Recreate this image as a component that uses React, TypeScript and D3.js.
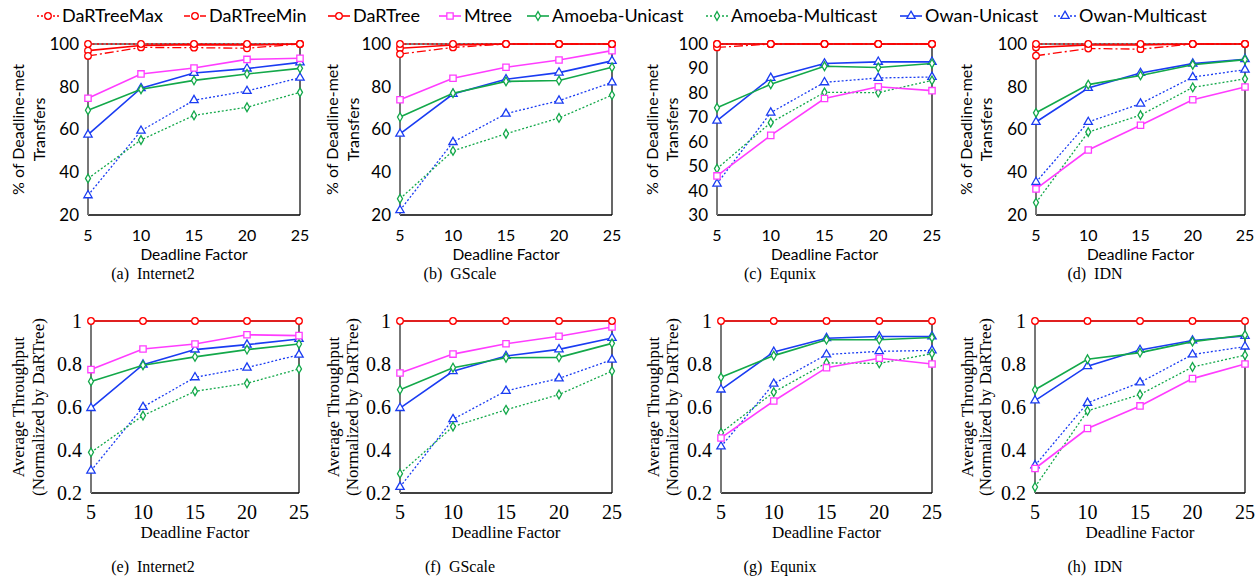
import React from "react";
import * as d3 from "d3";

const deadlineFactors = [5, 10, 15, 20, 25];
const seriesNames = [
  "DaRTreeMax",
  "DaRTreeMin",
  "DaRTree",
  "Mtree",
  "Amoeba-Unicast",
  "Amoeba-Multicast",
  "Owan-Unicast",
  "Owan-Multicast",
];

// % of deadline-met transfers, one row per series (order of seriesNames)
const metInternet2 = [
  [100, 100, 100, 100, 100],
  [94.4, 98.4, 98.3, 98, 100],
  [96.9, 99.3, 99.7, 99.5, 100],
  [74.6, 86, 88.8, 92.8, 93.3],
  [69, 78.8, 83, 86, 88.6],
  [37.1, 55.1, 66.6, 70.4, 77.4],
  [57.6, 79.3, 86.4, 88.5, 91.4],
  [29.2, 59.4, 73.7, 78, 84.2],
];
const metGScale = [
  [100, 100, 100, 100, 100],
  [95.3, 98.4, 100, 100, 100],
  [98, 99.5, 100, 100, 100],
  [73.9, 84, 89.1, 92.5, 96.9],
  [65.8, 77, 82.5, 82.9, 89.1],
  [27.6, 50, 58, 65.4, 76.1],
  [58, 76.6, 83.5, 86.6, 92.1],
  [22.2, 54.1, 67.4, 73.5, 82],
];
const metEqunix = [
  [100, 100, 100, 100, 100],
  [98.6, 100, 100, 100, 100],
  [100, 100, 100, 100, 100],
  [46, 62.6, 77.7, 82.5, 80.9],
  [73.9, 83.5, 90.9, 90.4, 92],
  [49, 67.8, 80.2, 80.1, 85.1],
  [68.6, 86.1, 92, 92.7, 92.7],
  [42.8, 71.9, 84.3, 86.1, 86.5],
];
const metIDN = [
  [100, 100, 100, 100, 100],
  [94.5, 97.9, 97.6, 100, 100],
  [98.4, 99.5, 99.5, 100, 100],
  [32.2, 50.4, 62, 73.9, 79.9],
  [67.8, 81, 85.3, 90.3, 92.7],
  [25.8, 58.8, 66.7, 79.7, 83.7],
  [63.5, 79.4, 86.4, 90.8, 92.9],
  [35.4, 63.5, 72.1, 84.5, 88],
];

// average throughput normalized by DaRTree (no Max/Min curves here)
const thrInternet2 = [
  null,
  null,
  [1, 1, 1, 1, 1],
  [0.774, 0.87, 0.893, 0.936, 0.932],
  [0.719, 0.794, 0.833, 0.867, 0.893],
  [0.389, 0.56, 0.673, 0.71, 0.777],
  [0.595, 0.797, 0.867, 0.89, 0.916],
  [0.304, 0.6, 0.738, 0.783, 0.843],
];
const thrGScale = [
  null,
  null,
  [1, 1, 1, 1, 1],
  [0.758, 0.846, 0.894, 0.929, 0.972],
  [0.68, 0.783, 0.829, 0.831, 0.896],
  [0.29, 0.509, 0.587, 0.658, 0.767],
  [0.595, 0.766, 0.837, 0.868, 0.921],
  [0.228, 0.543, 0.675, 0.733, 0.82],
];
const thrEqunix = [
  null,
  null,
  [1, 1, 1, 1, 1],
  [0.456, 0.628, 0.783, 0.827, 0.8],
  [0.738, 0.839, 0.913, 0.913, 0.923],
  [0.48, 0.669, 0.805, 0.803, 0.848],
  [0.681, 0.856, 0.92, 0.928, 0.928],
  [0.416, 0.708, 0.844, 0.859, 0.863],
];
const thrIDN = [
  null,
  null,
  [1, 1, 1, 1, 1],
  [0.314, 0.5, 0.605, 0.732, 0.8],
  [0.68, 0.822, 0.853, 0.904, 0.935],
  [0.228, 0.582, 0.658, 0.786, 0.841],
  [0.63, 0.79, 0.865, 0.909, 0.93],
  [0.328, 0.619, 0.714, 0.844, 0.881],
];

const metTicks = [20, 40, 60, 80, 100];
const metTicksEqunix = [30, 40, 50, 60, 70, 80, 90, 100];
const thrTicks = [0.2, 0.4, 0.6, 0.8, 1];
const captionsTop = ["(a)\u00a0 Internet2", "(b)\u00a0 GScale", "(c)\u00a0 Equnix", "(d)\u00a0 IDN"];
const captionsBottom = ["(e)\u00a0 Internet2", "(f)\u00a0 GScale", "(g)\u00a0 Equnix", "(h)\u00a0 IDN"];

const RED = "#ff0000";
const PINK = "#ff3cff";
const GREEN = "#13a84a";
const BLUE = "#1a3cf2";

const styles = [
  { color: RED, dash: "2,2.5", symbol: d3.symbolCircle, size: 34 },
  { color: RED, dash: "9,3,2,3", symbol: d3.symbolCircle, size: 34 },
  { color: RED, dash: null, symbol: d3.symbolCircle, size: 34 },
  { color: PINK, dash: null, symbol: d3.symbolSquare, size: 40 },
  { color: GREEN, dash: null, symbol: d3.symbolDiamond, size: 22 },
  { color: GREEN, dash: "2,2", symbol: d3.symbolDiamond, size: 22 },
  { color: BLUE, dash: null, symbol: d3.symbolTriangle, size: 30 },
  { color: BLUE, dash: "2,2", symbol: d3.symbolTriangle, size: 30 },
];
const legendDash = ["2,2", "6,2", null, null, null, "2,2", null, "2,2"];

const SANS = "Lato, 'Open Sans', sans-serif";
const SERIF = "'Liberation Serif', 'DejaVu Serif', serif";

const legendX = [37, 184, 328, 439, 527, 706, 900, 1054];

function Panel({ left, right, top, bottom, domain, ticks, rows, serif, labelX, label, fmt, caption, captionX, captionY }) {
  const x = d3.scaleLinear().domain([5, 25]).range([left, right]);
  const y = d3.scaleLinear().domain(domain).range([bottom, top]);
  const line = d3
    .line<number>()
    .x((d, i) => x(deadlineFactors[i]))
    .y((d) => y(d));
  const tickFont = serif ? SERIF : SANS;
  const tickSize = serif ? 20 : 17;
  const xTickSize = serif ? 20 : 16;
  const titleSize = serif ? 17 : 15.5;
  const midY = (top + bottom) / 2;

  return (
    <g>
      {ticks.map((t) => (
        <text key={t} x={left - 9} y={y(t)} dy="0.35em" textAnchor="end" fontFamily={tickFont} fontSize={tickSize} fill="#000">
          {fmt(t)}
        </text>
      ))}
      {deadlineFactors.map((f) => (
        <text key={f} x={x(f)} y={bottom + 26} textAnchor="middle" fontFamily={tickFont} fontSize={xTickSize} fill="#000">
          {f}
        </text>
      ))}
      <text x={(left + right) / 2} y={bottom + 44.5} textAnchor="middle" fontFamily={tickFont} fontSize={titleSize} fill="#000">
        Deadline Factor
      </text>
      {label.map((l, i) => (
        <text
          key={l}
          transform={`translate(${labelX[i]},${midY}) rotate(-90)`}
          dy="0.35em"
          textAnchor="middle"
          fontFamily={tickFont}
          fontSize={serif ? 17 : 16}
          fill="#000"
        >
          {l}
        </text>
      ))}
      <text x={captionX} y={captionY} textAnchor="middle" fontFamily={SERIF} fontSize={16} fill="#000">
        {caption}
      </text>

      {/* frame */}
      <line x1={left} x2={right} y1={top} y2={top} stroke="#000" strokeWidth={1} />
      <line x1={right} x2={right} y1={top} y2={bottom} stroke="#000" strokeWidth={1.2} />
      <line x1={left} x2={right} y1={bottom} y2={bottom} stroke="#000" strokeWidth={1.5} />
      <line x1={left} x2={left} y1={top} y2={bottom} stroke="#777" strokeWidth={2} />

      {rows.map((row, si) => {
        if (!row) return null;
        const s = styles[si];
        return (
          <g key={si}>
            <path d={line(row)} fill="none" stroke={s.color} strokeWidth={s.dash ? 1.3 : 1.6} strokeDasharray={s.dash || undefined} />
            {row.map((v, i) => (
              <path
                key={i}
                transform={`translate(${x(deadlineFactors[i])},${y(v)})`}
                d={d3.symbol().type(s.symbol).size(s.size)()}
                fill="#fff"
                stroke={s.color}
                strokeWidth={1.3}
              />
            ))}
          </g>
        );
      }).reverse()}
    </g>
  );
}

export default function App() {
  const topLeft = [88, 400, 717, 1036];
  const topRight = [300, 612, 932, 1245];
  const botLeft = [91, 400, 721, 1035];
  const botRight = [299, 612, 932, 1245];
  const captionCenters = [153, 460, 780, 1095];
  const metRows = [metInternet2, metGScale, metEqunix, metIDN];
  const thrRows = [thrInternet2, thrGScale, thrEqunix, thrIDN];
  const topLabelX = [[18, 39], [332, 353], [652, 672], [966, 986]];
  const botLabelX = [[18, 38], [333, 352], [653, 672], [967, 985]];

  return (
    <svg width={1260} height={579} style={{ position: "absolute", left: 0, top: 0, background: "#fff" }}>
      {seriesNames.map((name, i) => {
        const s = styles[i];
        const x0 = legendX[i];
        return (
          <g key={name}>
            <line x1={x0} x2={x0 + 22} y1={16} y2={16} stroke={s.color} strokeWidth={legendDash[i] ? 1.3 : 1.6} strokeDasharray={legendDash[i] || undefined} />
            <path transform={`translate(${x0 + 11},16)`} d={d3.symbol().type(s.symbol).size(s.size)()} fill="#fff" stroke={s.color} strokeWidth={1.3} />
            <text x={x0 + 25} y={16} dy="0.35em" fontFamily={SANS} fontSize={18} fill="#000">
              {name}
            </text>
          </g>
        );
      })}

      {metRows.map((rows, i) => (
        <Panel
          key={"m" + i}
          left={topLeft[i]}
          right={topRight[i]}
          top={44}
          bottom={215}
          domain={i === 2 ? [30, 100] : [20, 100]}
          ticks={i === 2 ? metTicksEqunix : metTicks}
          rows={rows}
          serif={false}
          labelX={topLabelX[i]}
          label={["% of Deadline-met", "Transfers"]}
          fmt={(t) => String(t)}
          caption={captionsTop[i]}
          captionX={captionCenters[i]}
          captionY={279}
        />
      ))}

      {thrRows.map((rows, i) => (
        <Panel
          key={"t" + i}
          left={botLeft[i]}
          right={botRight[i]}
          top={321}
          bottom={493}
          domain={[0.2, 1]}
          ticks={thrTicks}
          rows={rows}
          serif={true}
          labelX={botLabelX[i]}
          label={["Average Throughput", "(Normalized by DaRTree)"]}
          fmt={(t) => (t === 1 ? "1" : t.toFixed(1))}
          caption={captionsBottom[i]}
          captionX={captionCenters[i]}
          captionY={572}
        />
      ))}
    </svg>
  );
}
